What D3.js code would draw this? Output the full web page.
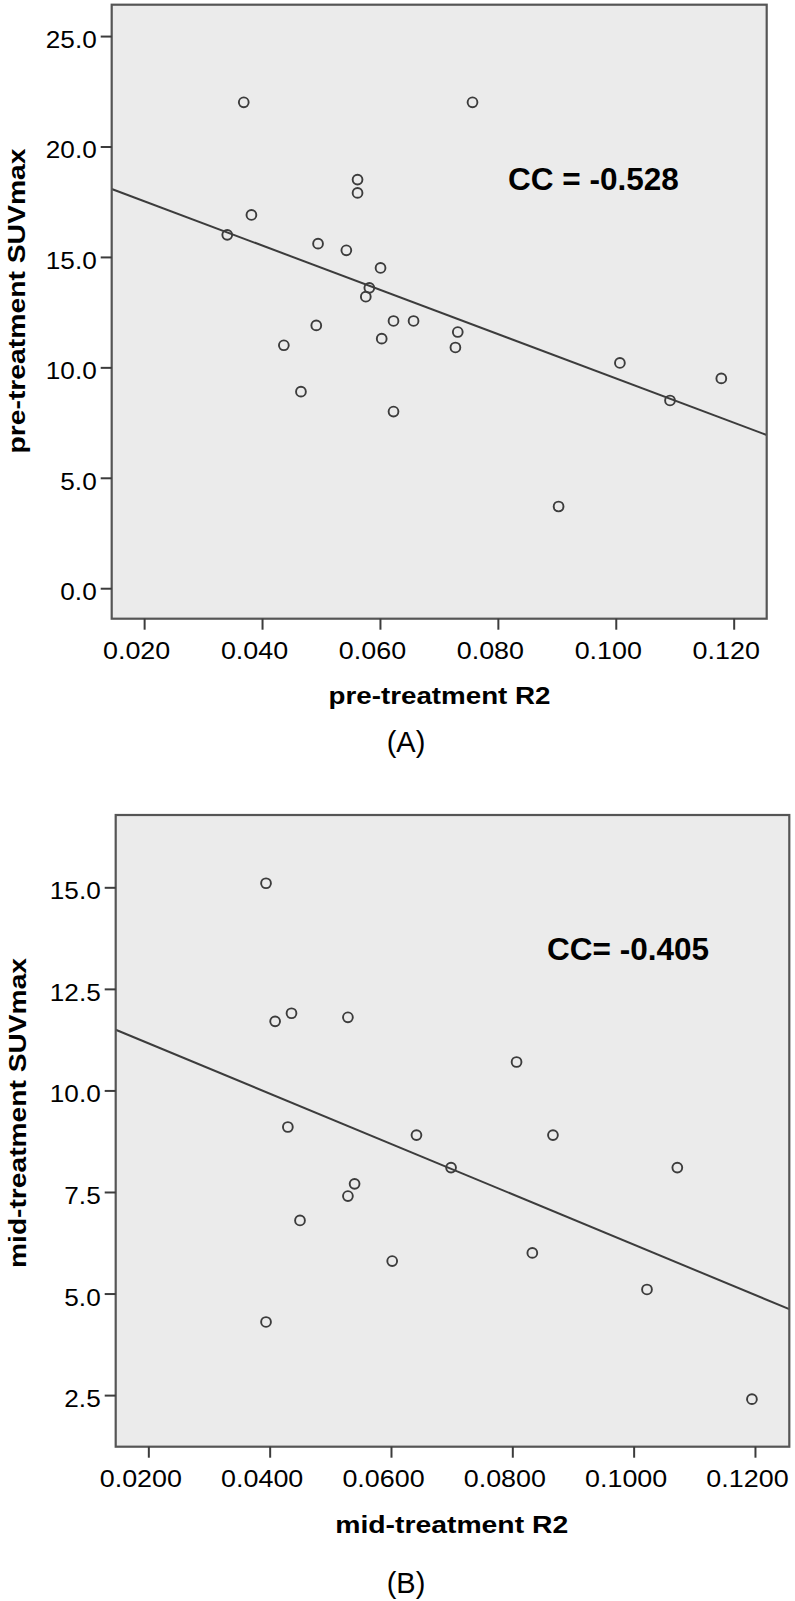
<!DOCTYPE html>
<html>
<head>
<meta charset="utf-8">
<script src="https://d3js.org/d3.v7.min.js"></script>
<style>
body { margin: 0; background: #fff; }
</style>
</head>
<body>
<div id="chart"></div>
<script>
// (A) pre-treatment
var preR2  = [0.0369, 0.0757, 0.0562, 0.0562, 0.0382, 0.0341, 0.0495, 0.0543, 0.0601, 0.0582, 0.0576, 0.0492,
              0.0623, 0.0657, 0.0732, 0.0603, 0.0437, 0.0728, 0.0466, 0.0623, 0.1007, 0.1179, 0.1092, 0.0903];
var preSUV = [22.0, 22.0, 18.5, 17.9, 16.9, 16.0, 15.6, 15.3, 14.5, 13.6, 13.2, 11.9,
              12.1, 12.1, 11.6, 11.3, 11.0, 10.9, 8.9, 8.0, 10.2, 9.5, 8.5, 3.7];
var preXTicks = [0.020, 0.040, 0.060, 0.080, 0.100, 0.120];
var preYTicks = [0, 5, 10, 15, 20, 25];

// (B) mid-treatment
var midR2  = [0.0394, 0.0409, 0.0436, 0.0529, 0.0430, 0.0540, 0.0529, 0.0807, 0.0642,
              0.0867, 0.0699, 0.1072, 0.0450, 0.0602, 0.0394, 0.0833, 0.1022, 0.1195];
var midSUV = [15.1, 11.7, 11.9, 11.8, 9.1, 7.7, 7.4, 10.7, 8.9,
              8.9, 8.1, 8.1, 6.8, 5.8, 4.3, 6.0, 5.1, 2.4];
var midXTicks = [0.02, 0.04, 0.06, 0.08, 0.10, 0.12];
var midYTicks = [2.5, 5, 7.5, 10, 12.5, 15];

var ink = "#3c3c3c";

var svg = d3.select("#chart").append("svg")
    .attr("width", 795)
    .attr("height", 1601);

// the SPSS text is wider than Arial, so stretch it
function stretch(sel, k) {
  sel.each(function() {
    var w = this.getComputedTextLength();
    d3.select(this).attr("textLength", w * k).attr("lengthAdjust", "spacingAndGlyphs");
  });
}

// least squares line
function fit(xs, ys) {
  var mx = d3.mean(xs), my = d3.mean(ys);
  var sxy = d3.sum(xs, function(v, i) { return (v - mx) * (ys[i] - my); });
  var sxx = d3.sum(xs, function(v) { return (v - mx) * (v - mx); });
  var b = sxy / sxx;
  return { a: my - b * mx, b: b };
}

function panel(o) {
  var x = d3.scaleLinear().domain(o.xDom).range([o.left, o.right]);
  var y = d3.scaleLinear().domain(o.yDom).range([o.bottom, o.top]);
  var g = svg.append("g");

  g.append("rect")
    .attr("x", o.left).attr("y", o.top)
    .attr("width", o.right - o.left).attr("height", o.bottom - o.top)
    .style("fill", "#ebebeb");

  var f = fit(o.xs, o.ys);
  g.append("line")
    .attr("x1", x(o.xDom[0])).attr("y1", y(f.a + f.b * o.xDom[0]))
    .attr("x2", x(o.xDom[1])).attr("y2", y(f.a + f.b * o.xDom[1]))
    .style("stroke", ink).style("stroke-width", 2);

  g.append("g").selectAll("circle")
    .data(o.xs)
    .enter()
    .append("circle")
      .attr("cx", function(d) { return x(d); })
      .attr("cy", function(d, i) { return y(o.ys[i]); })
      .attr("r", 4.9)
      .style("fill", "none")
      .style("stroke", ink)
      .style("stroke-width", 1.9);

  g.append("rect")
    .attr("x", o.left).attr("y", o.top)
    .attr("width", o.right - o.left).attr("height", o.bottom - o.top)
    .style("fill", "none").style("stroke", "#555").style("stroke-width", 2.2);

  var xa = g.append("g")
    .attr("transform", "translate(0," + o.bottom + ")")
    .call(d3.axisBottom(x).tickValues(o.xTicks).tickSize(11).tickFormat(d3.format(o.xFmt)));
  var ya = g.append("g")
    .attr("transform", "translate(" + o.left + ",0)")
    .call(d3.axisLeft(y).tickValues(o.yTicks).tickSize(11).tickFormat(d3.format(".1f")));

  [xa, ya].forEach(function(a) {
    a.select(".domain").remove();
    a.selectAll("line").style("stroke", ink).style("stroke-width", 2);
    a.selectAll("text")
      .style("font-family", "'Liberation Sans', Arial, sans-serif")
      .style("font-size", "24px")
      .style("fill", "#000");
  });
  xa.selectAll("text").attr("y", 40).attr("dy", 0).attr("dx", -8);
  ya.selectAll("text").attr("x", -15).attr("dy", 0).attr("y", 11.5);
  stretch(xa.selectAll("text"), 1.12);
  stretch(ya.selectAll("text"), 1.09);

  g.append("text")
    .attr("x", o.xTitleX).attr("y", o.xTitleY)
    .attr("text-anchor", "middle")
    .style("font-family", "'Liberation Sans', Arial, sans-serif")
    .style("font-weight", "bold").style("font-size", "23.5px").style("fill", "#000")
    .attr("textLength", o.xTitleLen).attr("lengthAdjust", "spacingAndGlyphs")
    .text(o.xTitle);

  g.append("text")
    .attr("transform", "translate(" + o.yTitleX + "," + o.yTitleY + ") rotate(-90)")
    .attr("text-anchor", "middle")
    .style("font-family", "'Liberation Sans', Arial, sans-serif")
    .style("font-weight", "bold").style("font-size", "23px").style("fill", "#000")
    .attr("textLength", o.yTitleLen).attr("lengthAdjust", "spacingAndGlyphs")
    .text(o.yTitle);

  g.append("text")
    .attr("x", o.ccX).attr("y", o.ccY)
    .style("font-family", "'Liberation Sans', Arial, sans-serif")
    .style("font-weight", "bold").style("font-size", "31.5px").style("fill", "#000")
    .text(o.cc);

  g.append("text")
    .attr("x", 406).attr("y", o.tagY)
    .attr("text-anchor", "middle")
    .style("font-family", "'Liberation Sans', Arial, sans-serif")
    .style("font-size", "29px").style("fill", "#000")
    .text(o.tag);
}

panel({
  xs: preR2, ys: preSUV, xTicks: preXTicks, yTicks: preYTicks, xFmt: ".3f",
  xDom: [0.0145, 0.1256], yDom: [-1.38, 26.42],
  left: 111.7, right: 766.7, top: 4.7, bottom: 618.7,
  xTitle: "pre-treatment R2", xTitleX: 439.5, xTitleY: 704, xTitleLen: 222,
  yTitle: "pre-treatment SUVmax", yTitleX: 25, yTitleY: 301, yTitleLen: 305,
  cc: "CC = -0.528", ccX: 508, ccY: 190,
  tag: "(A)", tagY: 752
});

panel({
  xs: midR2, ys: midSUV, xTicks: midXTicks, yTicks: midYTicks, xFmt: ".4f",
  xDom: [0.01462, 0.12566], yDom: [1.23, 16.78],
  left: 115.7, right: 789.3, top: 815, bottom: 1446.7,
  xTitle: "mid-treatment R2", xTitleX: 451.7, xTitleY: 1533, xTitleLen: 233,
  yTitle: "mid-treatment SUVmax", yTitleX: 26, yTitleY: 1113, yTitleLen: 310,
  cc: "CC= -0.405", ccX: 547, ccY: 960,
  tag: "(B)", tagY: 1593
});
</script>
</body>
</html>
